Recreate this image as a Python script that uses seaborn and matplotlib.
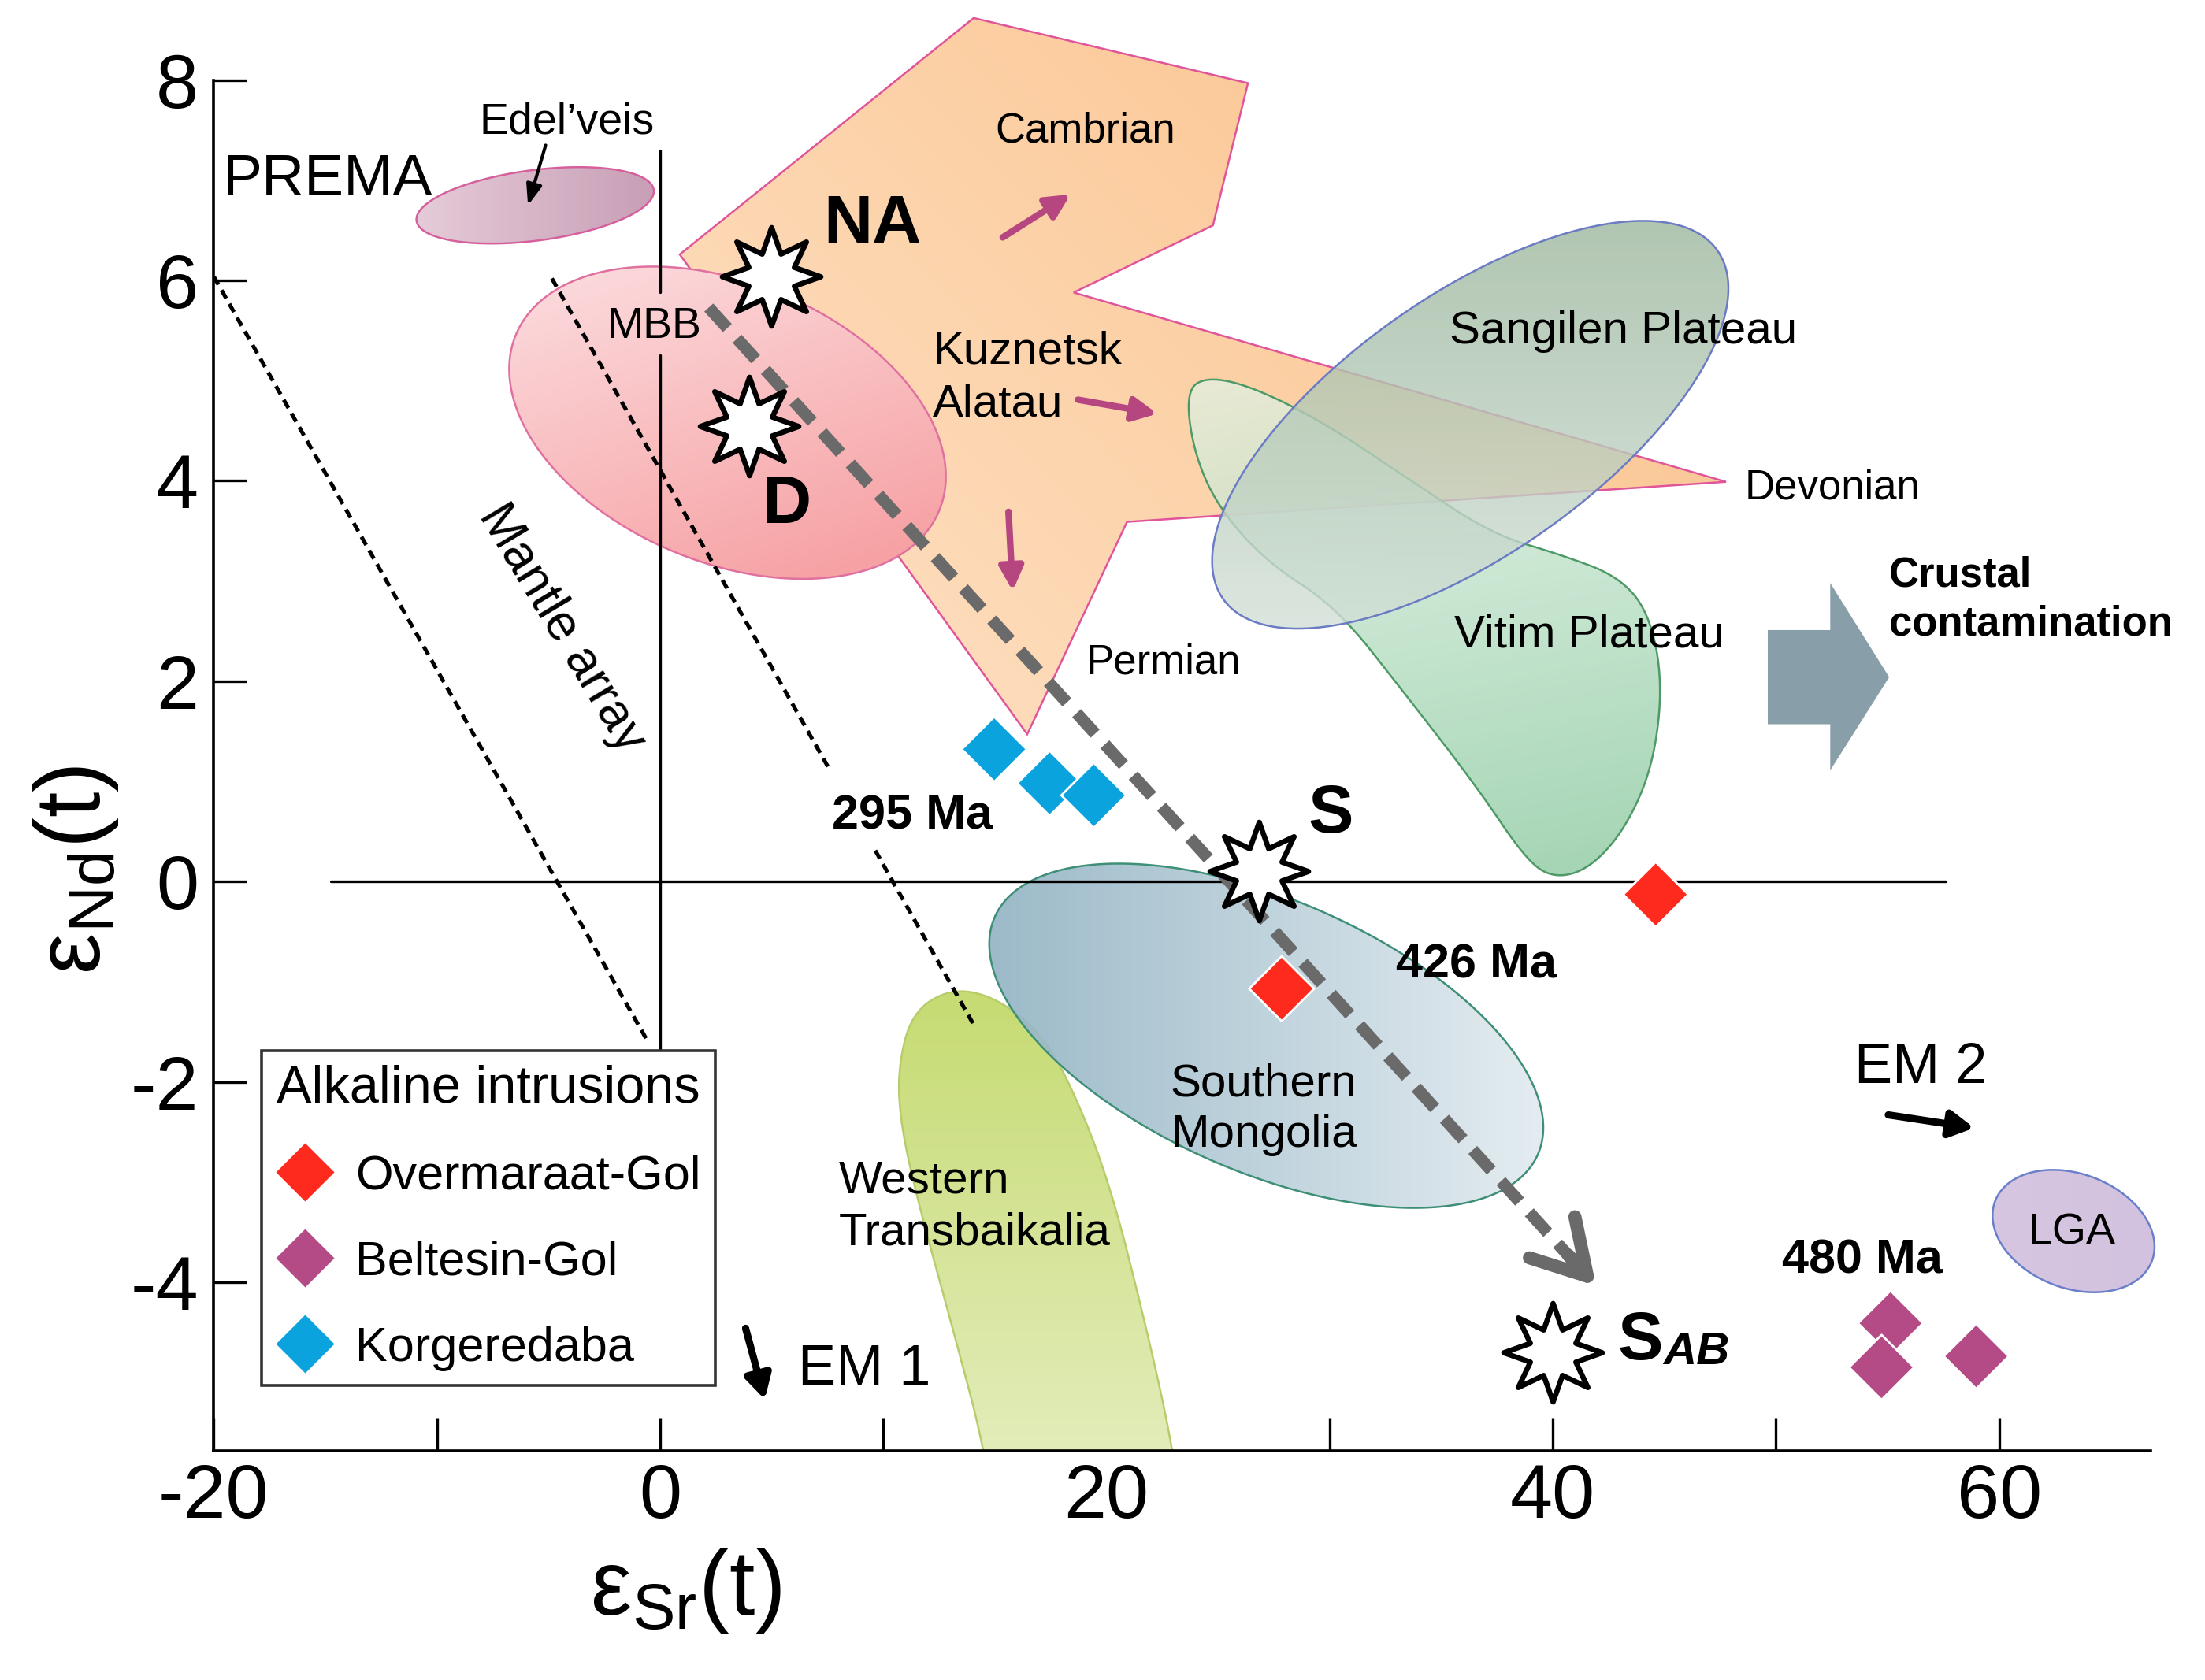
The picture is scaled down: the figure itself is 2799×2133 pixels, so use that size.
import numpy as np
import pandas as pd
import matplotlib
matplotlib.use("Agg")
import matplotlib.pyplot as plt
import seaborn as sns
from matplotlib.patches import Polygon, FancyArrowPatch
from matplotlib.path import Path
from matplotlib.lines import Line2D
from matplotlib.colors import LinearSegmentedColormap

sns.set_theme(style="white")
plt.rcParams["font.family"] = ["Liberation Sans", "DejaVu Sans"]
plt.rcParams["axes.unicode_minus"] = False
plt.rcParams["text.color"] = "black"
plt.rcParams["axes.labelcolor"] = "black"
plt.rcParams["mathtext.fontset"] = "custom"
plt.rcParams["mathtext.rm"] = "Liberation Sans"
plt.rcParams["mathtext.it"] = "Liberation Sans:italic"
plt.rcParams["mathtext.bf"] = "Liberation Sans:bold"

# ── Data: alkaline intrusions (eSr, eNd) ─────────────────
overmaraat_sr = [27.85, 44.61]
overmaraat_nd = [-1.07, -0.13]
beltesin_sr = [55.13, 54.73, 58.97]
beltesin_nd = [-4.41, -4.85, -4.74]
korgeredaba_sr = [14.97, 17.45, 19.43]
korgeredaba_nd = [1.32, 0.98, 0.86]
group_names = ["Overmaraat-Gol", "Beltesin-Gol", "Korgeredaba"]
group_colors = ["#fe2a1e", "#b44a86", "#0ba3dd"]

# mantle sources (stars)
source_sr = [4.98, 3.98, 26.84, 39.99]
source_nd = [6.04, 4.55, 0.10, -4.70]

# ── Data: fields ─────────────────────────────────────────
kuznetsk_sr = [0.88, 14.05, 26.34, 24.77, 18.53, 47.76, 20.92, 16.45]
kuznetsk_nd = [6.26, 8.62, 7.97, 6.55, 5.88, 3.99, 3.59, 1.47]

vitim_sr = [23.57, 24.51, 26.53, 29.68, 33.46, 37.24, 40.39, 42.91, 44.30, 44.93, 44.49,
            43.23, 41.65, 40.08, 38.82, 36.61, 33.46, 30.31, 27.16, 24.95, 23.88]
vitim_nd = [4.90, 5.04, 4.94, 4.59, 4.03, 3.47, 3.26, 3.05, 2.69, 1.99, 1.15,
            0.52, 0.13, 0.03, 0.21, 0.94, 1.85, 2.74, 3.19, 3.75, 4.31]

transbaikalia_sr = [10.65, 11.28, 12.98, 14.87, 16.76, 18.08, 20.04, 21.80, 23.0, 23.5,
                    15.06, 14.56, 13.11, 11.59, 10.78]
transbaikalia_nd = [-1.87, -1.31, -1.07, -1.14, -1.45, -1.87, -2.92, -4.46, -5.68, -6.6,
                    -6.6, -5.68, -4.46, -3.23, -2.43]

# ellipses: centre sr, centre nd, semi-major, semi-minor (eSr units), tilt (deg)
edelveis_ellipse = [-5.6, 6.75, 5.36, 1.58, 7.4]
mbb_ellipse = [3.02, 4.58, 10.27, 6.26, -22.6]
sangilen_ellipse = [36.3, 4.56, 13.55, 5.8, 35.2]
mongolia_ellipse = [27.16, -1.54, 13.28, 6.1, -23.6]
lga_ellipse = [63.33, -3.49, 3.76, 2.56, -20.9]

# reference lines
mantle_sr = [-20.0, -0.57]
mantle_nd = [6.04, -1.59]
mbb_array_sr = [[-4.85, 7.61], [9.64, 14.05]]
mbb_array_nd = [[6.02, 1.11], [0.31, -1.43]]
zero_h_sr = [-14.75, 57.6]
zero_v_nd = [[7.3, 5.88], [5.25, -2.5]]

trend_start = (2.18, 5.73)
trend_end = (42.07, -4.07)

crustal_sr = [49.63, 52.43, 52.43, 55.07, 52.43, 52.43, 49.63]
crustal_nd = [2.51, 2.51, 2.98, 2.04, 1.11, 1.57, 1.57]

edel_arrow = [(-5.13, 7.35), (-5.92, 6.75)]
cambrian_arrow = [(15.35, 6.43), (18.39, 6.86)]
kuznetsk_arrow = [(18.72, 4.81), (22.28, 4.67)]
permian_arrow = [(15.61, 3.69), (15.80, 2.90)]
em1_arrow = [(3.83, -4.46), (4.69, -5.17)]
em2_arrow = [(55.03, -2.33), (58.88, -2.46)]

x_ticks = list(range(-20, 70, 10))
x_ticklabels = ["-20", "", "0", "", "20", "", "40", "", "60"]
y_ticks = [-4, -2, 0, 2, 4, 6, 8]

# ── Figure ───────────────────────────────────────────────
fig = plt.figure(figsize=(13.995, 10.665), dpi=200)
ax = fig.add_axes([0.09694, 0.13640, 0.8907, 0.86062])
XLIM = (-20, 68)
YLIM = (-5.684, 8.75)
ax.set_xlim(*XLIM)
ax.set_ylim(*YLIM)

bb = ax.get_window_extent()
K = (bb.height / (YLIM[1] - YLIM[0])) / (bb.width / (XLIM[1] - XLIM[0]))


def ellipse_xy(p, n=240):
    cx, cy, a, b, ang = p
    t = np.linspace(0, 2 * np.pi, n)
    th = np.deg2rad(ang)
    u, v = a * np.cos(t), b * np.sin(t)
    x = cx + u * np.cos(th) - v * np.sin(th)
    y = cy + (u * np.sin(th) + v * np.cos(th)) / K
    return x, y


def chaikin(xs, ys, n=3):
    pts = np.column_stack([xs, ys])
    for _ in range(n):
        nxt = np.roll(pts, -1, axis=0)
        q = 0.75 * pts + 0.25 * nxt
        r = 0.25 * pts + 0.75 * nxt
        pts = np.empty((2 * len(q), 2))
        pts[0::2], pts[1::2] = q, r
    return pts[:, 0], pts[:, 1]


def gradient_field(xs, ys, colors, direction, edge, lw=0.9, alpha=1.0, z=1):
    patch = Polygon(np.column_stack([xs, ys]), closed=True, facecolor="none",
                    edgecolor=edge, lw=lw, zorder=z + 0.01)
    ax.add_patch(patch)
    x0, x1, y0, y1 = min(xs), max(xs), min(ys), max(ys)
    gx, gy = np.meshgrid(np.linspace(x0, x1, 200), np.linspace(y0, y1, 200))
    proj = gx * direction[0] + gy * K * direction[1]
    t = (proj - proj.min()) / (proj.max() - proj.min())
    cmap = LinearSegmentedColormap.from_list("g", colors)
    im = ax.imshow(t, cmap=cmap, extent=(x0, x1, y0, y1), origin="lower", aspect="auto",
                   interpolation="bilinear", alpha=alpha, zorder=z)
    im.set_clip_path(patch)


# ── Fields ───────────────────────────────────────────────
gradient_field(kuznetsk_sr, kuznetsk_nd, ["#fee2c6", "#fbc088"], (1, 1), "#e0559a", z=1)
vx, vy = chaikin(vitim_sr, vitim_nd)
gradient_field(vx, vy, ["#e2f3e5", "#84c69a"], (0.2, -1), "#4e9a66", alpha=0.75, z=2)
gradient_field(*ellipse_xy(mbb_ellipse), ["#fcdde0", "#f69c9e"], (0.35, -1), "#e070a0", z=2)
gradient_field(*ellipse_xy(edelveis_ellipse), ["#e5cbd8", "#c89fb6"], (1, 0), "#d6609c", z=2)
gradient_field(*ellipse_xy(sangilen_ellipse), ["#9db89e", "#d3e0d8"], (0, -1), "#6b7bc4",
               alpha=0.8, z=3)
tx, ty = chaikin(transbaikalia_sr, transbaikalia_nd)
gradient_field(tx, ty, ["#c6db72", "#e8f0c8"], (0, -1), "#b7cc6a", z=2)
gradient_field(*ellipse_xy(mongolia_ellipse), ["#93b4c4", "#e2ebf0"], (1, 0), "#3e8f78",
               alpha=0.92, z=2.5)
gradient_field(*ellipse_xy(lga_ellipse), ["#d6c6e1", "#d2c2df"], (1, 0), "#6a7fc9", z=2)

ax.fill(crustal_sr, crustal_nd, color="#889fa9", lw=0, zorder=3)

# ── Reference lines ──────────────────────────────────────
ax.plot(zero_h_sr, [0, 0], color="black", lw=1.2, zorder=4)
for seg in zero_v_nd:
    ax.plot([0, 0], seg, color="black", lw=1.2, zorder=4)
ax.plot(mantle_sr, mantle_nd, color="black", lw=1.8, ls=(0, (2.4, 1.6)), zorder=4)
for sx, sy in zip(mbb_array_sr, mbb_array_nd):
    ax.plot(sx, sy, color="black", lw=1.8, ls=(0, (2.4, 1.6)), zorder=4)

# trend line with open head
ax.plot([trend_start[0], trend_end[0] - 0.9], [trend_start[1], trend_end[1] + 0.22],
        color="#6a6a6a", lw=5.5, ls=(0, (2.3, 1.2)), solid_capstyle="butt", zorder=5)
ax.add_patch(FancyArrowPatch((trend_end[0] - 1.5, trend_end[1] + 0.37), trend_end,
                             arrowstyle="->,head_length=24,head_width=14", mutation_scale=1,
                             lw=6, color="#6a6a6a", zorder=5))


def arrow(pts, color, lw, hl, hw):
    ax.add_patch(FancyArrowPatch(pts[0], pts[1], arrowstyle=f"-|>,head_length={hl},head_width={hw}",
                                 mutation_scale=1, lw=lw, color=color, zorder=6,
                                 shrinkA=0, shrinkB=0))


purple = "#b6467f"
arrow(cambrian_arrow, purple, 3.0, 9, 4.5)
arrow(kuznetsk_arrow, purple, 3.0, 9, 4.5)
arrow(permian_arrow, purple, 3.0, 9, 4.5)
arrow(edel_arrow, "black", 1.5, 8, 3)
arrow(em1_arrow, "black", 3.3, 9, 5)
arrow(em2_arrow, "black", 3.3, 9, 5)

# ── Stars (source compositions) ──────────────────────────
ang = np.deg2rad(90 + np.arange(16) * 22.5)
rad = np.where(np.arange(16) % 2 == 0, 1.0, 0.5)
sv = np.column_stack([rad * np.cos(ang), rad * np.sin(ang)])
star = Path(np.vstack([sv, sv[:1]]), [Path.MOVETO] + [Path.LINETO] * 15 + [Path.CLOSEPOLY])
ax.plot(source_sr, source_nd, ls="none", marker=star, ms=45, mfc="white", mec="black",
        mew=2.4, zorder=7)

# ── Samples ──────────────────────────────────────────────
points = pd.DataFrame({
    "sr": overmaraat_sr + beltesin_sr + korgeredaba_sr,
    "nd": overmaraat_nd + beltesin_nd + korgeredaba_nd,
    "group": [group_names[0]] * 2 + [group_names[1]] * 3 + [group_names[2]] * 3,
})
sns.scatterplot(data=points, x="sr", y="nd", hue="group",
                palette=dict(zip(group_names, group_colors)), marker="D", s=441,
                edgecolor="white", linewidth=1, legend=False, ax=ax, zorder=7)

# ── Labels ───────────────────────────────────────────────
def label(x, y, s, size, ha="left", weight="normal", **kw):
    return ax.text(x, y, s, fontsize=size, ha=ha, va="center", fontweight=weight,
                   color="black", zorder=8, **kw)


label(-19.6, 7.0, "PREMA", 27)
label(-4.16, 7.58, "Edel\u2019veis", 20, ha="center")
label(-0.25, 5.54, "MBB", 20, ha="center")
label(7.31, 6.55, "NA", 31, weight="bold")
label(5.67, 3.75, "D", 31, ha="center", weight="bold")
label(30.06, 0.66, "S", 31, ha="center", weight="bold")
s_ab = label(42.91, -4.60, "S", 31, weight="bold")
ax.annotate("AB", xy=(1.0, 0.0), xycoords=s_ab, fontsize=21, fontweight="bold",
            fontstyle="italic", ha="left", va="bottom", color="black", zorder=8)
label(15.0, 7.49, "Cambrian", 19)
label(12.22, 5.29, "Kuznetsk", 21)
label(12.22, 4.76, "Alatau", 21)
label(43.16, 5.49, "Sangilen Plateau", 21, ha="center")
label(48.58, 3.93, "Devonian", 19)
label(55.07, 3.06, "Crustal", 19, weight="bold")
label(55.07, 2.57, "contamination", 19, weight="bold")
label(41.62, 2.46, "Vitim Plateau", 21, ha="center")
label(19.09, 2.18, "Permian", 19)
label(7.69, 0.65, "295 Ma", 22, weight="bold")
label(32.96, -0.84, "426 Ma", 22, weight="bold")
label(50.28, -3.79, "480 Ma", 22, weight="bold")
label(22.87, -2.02, "Southern", 21)
label(22.87, -2.53, "Mongolia", 21)
label(8.0, -2.99, "Western", 21)
label(8.0, -3.51, "Transbaikalia", 21)
label(6.18, -4.88, "EM 1", 26)
label(53.5, -1.87, "EM 2", 26)
label(63.26, -3.51, "LGA", 20, ha="center")
label(-4.4, 2.53, "Mantle array", 23, ha="center", rotation=-59, rotation_mode="anchor")

# ── Legend ───────────────────────────────────────────────
handles = [Line2D([], [], ls="none", marker="D", ms=19.8, mfc=c, mec="white", mew=1)
           for c in group_colors]
leg = ax.legend(handles, group_names, title="Alkaline intrusions", loc="lower left",
                bbox_to_anchor=(0.0242, 0.0452), borderaxespad=0, frameon=True,
                fancybox=False, edgecolor="#333333", framealpha=1, fontsize=22,
                title_fontsize=24, handlelength=1.2, handletextpad=0.45,
                labelspacing=0.85, borderpad=0.3)
leg.get_frame().set_linewidth(1.3)
leg.set_zorder(10)

# ── Axes ─────────────────────────────────────────────────
ax.set_xlim(*XLIM)
ax.set_ylim(*YLIM)
for side in ["top", "right"]:
    ax.spines[side].set_visible(False)
ax.spines["left"].set_bounds(YLIM[0], 8)
ax.spines["bottom"].set_bounds(-20, 66.8)
for side in ["left", "bottom"]:
    ax.spines[side].set_linewidth(1.3)
    ax.spines[side].set_color("black")
ax.set_xticks(x_ticks)
ax.set_xticklabels(x_ticklabels)
ax.set_yticks(y_ticks)
ax.tick_params(axis="both", direction="in", length=15, width=1.2, labelsize=35,
               colors="black", bottom=True, left=True)
ax.tick_params(axis="x", pad=5.5)
ax.tick_params(axis="y", pad=7)

ax.set_xlabel("\u03b5$_{\\mathregular{Sr}}$(t)", fontsize=42)
ax.set_ylabel("\u03b5$_{\\mathregular{Nd}}$(t)", fontsize=42)
ax.xaxis.set_label_coords(0.2402, -0.0661)
ax.yaxis.set_label_coords(-0.0473, 0.402)

plt.savefig("out.png", dpi=200)
